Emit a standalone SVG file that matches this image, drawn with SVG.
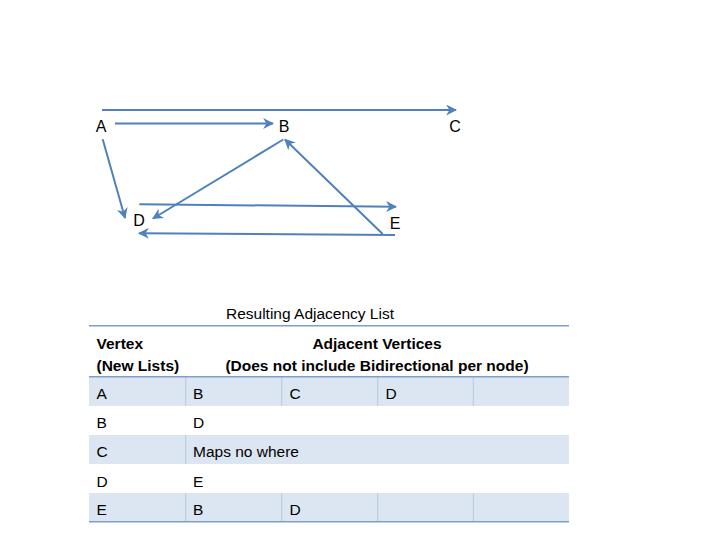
<svg xmlns="http://www.w3.org/2000/svg" width="720" height="540" viewBox="0 0 720 540">
<style>
.lbl{font-family:"Liberation Sans",Arial,sans-serif;font-size:16px;fill:#000}
.edge{stroke:#4f81bd;stroke-width:2;fill:none;marker-end:url(#ah)}
.t{font-family:"Liberation Sans",Arial,sans-serif;font-size:15.5px;fill:#000}
.b{font-weight:bold}
.shade{fill:#dce6f2}
.div{stroke:#b8c7dc;stroke-width:1}
.rule{stroke:#7f9fc8;stroke-width:1.5}
</style>
<defs>
<marker id="ah" viewBox="0 0 10 10" refX="9" refY="5" markerWidth="5.5" markerHeight="5.5" orient="auto" markerUnits="strokeWidth">
<path d="M0,0 L10,5 L0,10 L3,5 Z" fill="#4f81bd"/>
</marker>
</defs>
<rect width="720" height="540" fill="#fff"/>
<g id="connectors">
<line class="edge" x1="102" y1="110" x2="456" y2="110"/>
<line class="edge" x1="115" y1="123.5" x2="273" y2="123.5"/>
<line class="edge" x1="102.7" y1="139.3" x2="125" y2="218"/>
<line class="edge" x1="283.3" y1="139.5" x2="153" y2="218.5"/>
<line class="edge" x1="139.3" y1="204.3" x2="396" y2="206.7"/>
<line class="edge" x1="382.7" y1="234" x2="285" y2="139.5"/>
<line class="edge" x1="395" y1="235" x2="139" y2="233.3"/>
</g>
<g id="node-A"><text class="lbl" x="101" y="132" text-anchor="middle">A</text></g>
<g id="node-B"><text class="lbl" x="284" y="132" text-anchor="middle">B</text></g>
<g id="node-C"><text class="lbl" x="455" y="132" text-anchor="middle">C</text></g>
<g id="node-D"><text class="lbl" x="139" y="226" text-anchor="middle">D</text></g>
<g id="node-E"><text class="lbl" x="395" y="229" text-anchor="middle">E</text></g>
<g id="table">
<text class="t" x="310" y="319" text-anchor="middle">Resulting Adjacency List</text>
<rect class="shade" x="89" y="377" width="480" height="29"/>
<rect class="shade" x="89" y="435" width="480" height="29"/>
<rect class="shade" x="89" y="493" width="480" height="29"/>
<line class="div" x1="185.7" y1="377" x2="185.7" y2="406"/>
<line class="div" x1="281.7" y1="377" x2="281.7" y2="406"/>
<line class="div" x1="377.7" y1="377" x2="377.7" y2="406"/>
<line class="div" x1="473.3" y1="377" x2="473.3" y2="406"/>
<line class="div" x1="185.7" y1="435" x2="185.7" y2="464"/>
<line class="div" x1="185.7" y1="493" x2="185.7" y2="522"/>
<line class="div" x1="281.7" y1="493" x2="281.7" y2="522"/>
<line class="div" x1="377.7" y1="493" x2="377.7" y2="522"/>
<line class="div" x1="473.3" y1="493" x2="473.3" y2="522"/>
<line class="rule" x1="89" y1="325.7" x2="569" y2="325.7"/>
<line class="rule" x1="89" y1="376.7" x2="569" y2="376.7"/>
<line class="rule" x1="89" y1="521.7" x2="569" y2="521.7"/>
<text class="t b" x="96.5" y="349">Vertex</text>
<text class="t b" x="96.5" y="371">(New Lists)</text>
<text class="t b" x="377" y="349" text-anchor="middle">Adjacent Vertices</text>
<text class="t b" x="377" y="371" text-anchor="middle">(Does not include Bidirectional per node)</text>
<text class="t" x="96.5" y="399">A</text>
<text class="t" x="193" y="399">B</text>
<text class="t" x="289.5" y="399">C</text>
<text class="t" x="385.5" y="399">D</text>
<text class="t" x="96.5" y="428">B</text>
<text class="t" x="193" y="428">D</text>
<text class="t" x="96.5" y="457">C</text>
<text class="t" x="193" y="457">Maps no where</text>
<text class="t" x="96.5" y="487">D</text>
<text class="t" x="193" y="487">E</text>
<text class="t" x="96.5" y="515">E</text>
<text class="t" x="193" y="515">B</text>
<text class="t" x="289.5" y="515">D</text>
</g>
</svg>
